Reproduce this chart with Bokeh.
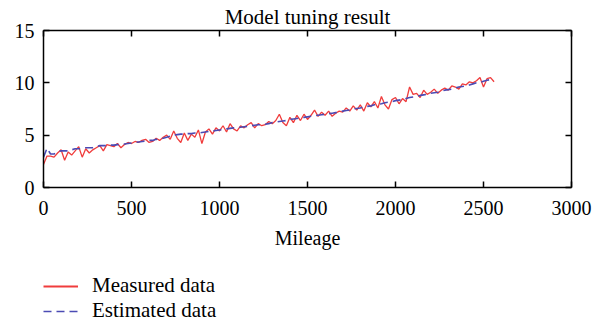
from bokeh.plotting import figure
from bokeh.models import (Range1d, FixedTicker, LinearAxis, Legend, LegendItem,
                          ColumnDataSource, CustomLabelingPolicy)
from bokeh.layouts import column
from bokeh.embed import file_html
from bokeh.resources import INLINE

# ---- data ----
mileage_measured = list(range(0, 2561, 20))
measured = [2.2, 3.0, 3.0, 2.9, 3.3, 3.6, 2.6, 3.4, 3.1, 3.5, 3.9, 2.9, 3.7, 3.3, 3.6, 3.8,
            4.0, 3.5, 4.1, 4.0, 3.9, 4.2, 3.8, 4.1, 4.3, 4.2, 4.4, 4.3, 4.5, 4.6, 4.3, 4.4,
            4.7, 4.5, 4.8, 5.0, 4.6, 5.4, 4.7, 4.3, 5.2, 4.5, 5.1, 4.8, 5.5, 4.2, 5.3, 5.6,
            5.1, 5.7, 5.4, 5.9, 5.3, 6.1, 5.6, 5.4, 5.9, 5.7, 6.0, 6.2, 5.7, 6.1, 5.9, 6.0,
            6.3, 6.1, 6.4, 7.0, 6.2, 5.9, 6.7, 6.2, 6.9, 6.4, 7.0, 6.5, 6.9, 7.4, 6.8, 7.2,
            6.9, 7.3, 6.8, 7.1, 7.3, 7.2, 7.6, 7.3, 7.8, 7.4, 7.9, 7.3, 8.1, 7.7, 8.2, 7.6,
            8.7, 7.9, 7.5, 8.4, 8.6, 8.0, 8.5, 8.2, 9.6, 8.9, 9.0, 8.6, 9.3, 8.9, 9.1, 9.4,
            9.0, 9.3, 9.5, 9.3, 9.7, 9.6, 9.4, 9.9, 9.8, 10.1, 10.0, 10.2, 10.5, 9.6, 10.4,
            10.5, 10.1]

mileage_estimated = list(range(0, 2541, 20))
estimated = [2.9, 3.75, 3.2, 3.2, 3.4, 3.5, 3.5, 3.5, 3.6, 3.7, 3.7, 3.75, 3.8, 3.8, 3.8, 3.9,
             4.0, 4.0, 4.0, 4.05, 4.05, 4.1, 4.1, 4.15, 4.2, 4.25, 4.3, 4.35, 4.4, 4.45, 4.5, 4.5,
             4.6, 4.65, 4.7, 4.8, 4.9, 5.0, 5.05, 5.1, 5.1, 5.15, 5.15, 5.2, 5.2, 5.25, 5.3, 5.35,
             5.4, 5.45, 5.5, 5.55, 5.6, 5.65, 5.7, 5.7, 5.75, 5.8, 5.85, 5.9, 5.95, 6.0, 6.0, 6.05,
             6.1, 6.2, 6.25, 6.3, 6.35, 6.4, 6.5, 6.55, 6.6, 6.65, 6.7, 6.75, 6.8, 6.85, 6.9, 6.95,
             7.0, 7.05, 7.1, 7.15, 7.2, 7.3, 7.35, 7.4, 7.5, 7.55, 7.6, 7.7, 7.75, 7.8, 7.9, 7.95,
             8.0, 8.1, 8.15, 8.2, 8.3, 8.35, 8.4, 8.5, 8.6, 8.65, 8.7, 8.8, 8.85, 8.9, 9.0, 9.05,
             9.1, 9.2, 9.3, 9.35, 9.4, 9.5, 9.6, 9.65, 9.7, 9.8, 9.9, 10.0, 10.05, 10.15, 10.25,
             10.3]

x_ticks = [0, 500, 1000, 1500, 2000, 2500, 3000]
y_ticks = [0, 5, 10, 15]
series_names = ["Measured data", "Estimated data"]
title_text = "Model tuning result"
x_label = "Mileage"

FONT = "Liberation Serif"
FS = "20px"
FS_BIG = "21px"
RED = "#f03c3c"
BLUE = "#4b4bb4"

p = figure(width=601, height=260, output_backend="svg", toolbar_location=None,
           x_range=Range1d(0, 3000), y_range=Range1d(0, 15),
           min_border_left=43, min_border_right=30, min_border_top=30, min_border_bottom=73,
           x_axis_label=x_label)

p.xgrid.visible = False
p.ygrid.visible = False
p.outline_line_color = None
p.background_fill_color = "white"
p.border_fill_color = "white"

src_m = ColumnDataSource(dict(x=mileage_measured, y=measured))
src_e = ColumnDataSource(dict(x=mileage_estimated, y=estimated))
p.line("x", "y", source=src_m, line_color=RED, line_width=1.3)
p.line("x", "y", source=src_e, line_color=BLUE, line_width=1.6, line_dash="8 5")

no_labels = CustomLabelingPolicy(code="""
for (const i of indices)
    indices.unset(i)
return indices
""")

def style_axis(ax, show_labels=True):
    ax.axis_line_color = "black"
    ax.axis_line_width = 1.5
    ax.major_tick_line_color = "black"
    ax.major_tick_line_width = 1.5
    ax.major_tick_in = 6
    ax.major_tick_out = 0
    ax.minor_tick_line_color = None
    ax.major_label_text_font = FONT
    ax.major_label_text_color = "black"
    ax.axis_label_text_font = FONT
    ax.axis_label_text_font_style = "normal"
    ax.axis_label_text_color = "black"
    if show_labels:
        ax.major_label_text_font_size = FS
        ax.axis_label_text_font_size = FS
        ax.major_label_standoff = 13
    else:
        ax.major_label_policy = no_labels
        ax.major_label_text_font_size = "1px"
        ax.axis_label_text_font_size = FS_BIG
        ax.major_label_standoff = 0

p.xaxis.ticker = FixedTicker(ticks=x_ticks)
p.yaxis.ticker = FixedTicker(ticks=y_ticks)
style_axis(p.xaxis[0])
style_axis(p.yaxis[0])
p.yaxis[0].major_label_standoff = 9
p.xaxis[0].axis_label_standoff = 9

top = LinearAxis(ticker=FixedTicker(ticks=x_ticks), axis_label=title_text)
style_axis(top, False)
top.axis_label_standoff = -2
right = LinearAxis(ticker=FixedTicker(ticks=y_ticks))
style_axis(right, False)
p.add_layout(top, "above")
p.add_layout(right, "right")

# ---- legend strip below the chart (same series; its ranges keep the lines out of view) ----
q = figure(width=601, height=66, output_backend="svg", toolbar_location=None,
           x_range=Range1d(0, 3000), y_range=Range1d(-2, -1),
           x_axis_type=None, y_axis_type=None,
           min_border_left=43, min_border_right=0, min_border_top=0, min_border_bottom=0)
q.xgrid.visible = False
q.ygrid.visible = False
q.outline_line_color = None
q.border_fill_color = "white"
q.background_fill_color = "white"
lm = q.line("x", "y", source=src_m, line_color=RED, line_width=1.8)
le = q.line("x", "y", source=src_e, line_color=BLUE, line_width=1.6, line_dash="8 5")

legend = Legend(items=[LegendItem(label=series_names[0], renderers=[lm]),
                       LegendItem(label=series_names[1], renderers=[le])],
                location=(0, 3), orientation="vertical")
legend.label_text_font = FONT
legend.label_text_font_size = FS_BIG
legend.label_text_color = "black"
legend.glyph_width = 35
legend.glyph_height = 20
legend.label_height = 20
legend.label_standoff = 14
legend.spacing = -1
legend.padding = 0
legend.margin = 0
legend.border_line_color = None
legend.background_fill_alpha = 0
q.add_layout(legend, "center")

open("out.html", "w").write(file_html(column(p, q, spacing=0), INLINE))
